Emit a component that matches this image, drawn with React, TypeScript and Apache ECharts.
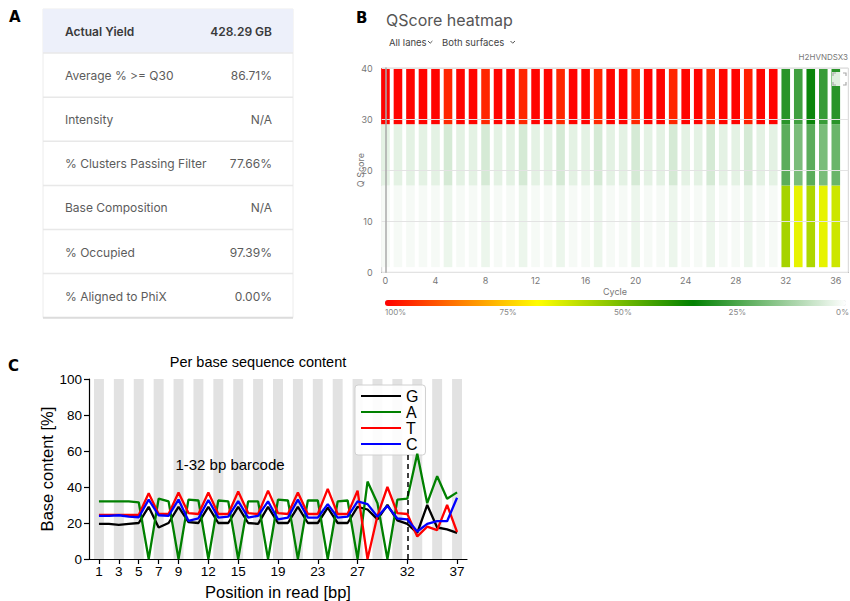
import React, { useEffect, useRef } from 'react';
import * as echarts from 'echarts';

// ---------- Panel A: run summary table ----------
const tableLabels = ['Actual Yield', 'Average % >= Q30', 'Intensity', '% Clusters Passing Filter', 'Base Composition', '% Occupied', '% Aligned to PhiX'];
const tableValues = ['428.29 GB', '86.71%', 'N/A', '77.66%', 'N/A', '97.39%', '0.00%'];

// ---------- Panel B: QScore heatmap ----------
const cycles = [0, 1, 2, 3, 4, 5, 6, 7, 8, 9, 10, 11, 12, 13, 14, 15, 16, 17, 18, 19, 20, 21, 22, 23, 24, 25, 26, 27, 28, 29, 30, 31, 32, 33, 34, 35, 36];
const qBinEdges = [1, 17, 29, 40];
const pctLow = [1.2, 1.2, 1.2, 1.2, 1.2, 2.5, 1.2, 1.2, 2.5, 1.2, 1.2, 2.5, 1.2, 1.2, 2.5, 1.2, 1.2, 2.5, 1.2, 1.2, 2.5, 1.2, 1.2, 2.5, 1.2, 1.2, 2.5, 1.2, 1.2, 2.5, 1.2, 1.2, 55, 63.5, 56, 63.5, 60];
const pctMid = [3.5, 3.5, 3.5, 3.5, 3.5, 5.5, 3.5, 3.5, 5.5, 3.5, 3.5, 5.5, 3.5, 3.5, 5.5, 3.5, 3.5, 5.5, 3.5, 3.5, 5.5, 3.5, 3.5, 5.5, 3.5, 3.5, 5.5, 3.5, 3.5, 5.5, 3.5, 3.5, 21.5, 17.5, 21.5, 17.5, 19.5];
const pctHigh = [99.5, 99.5, 99.5, 99.5, 99.5, 95, 99.5, 99.5, 95, 99.5, 99.5, 95, 99.5, 99.5, 95, 99.5, 99.5, 95, 99.5, 99.5, 95, 99.5, 99.5, 95, 99.5, 99.5, 95.5, 99.5, 99.5, 96, 99.5, 99.5, 28, 25, 32, 26, 28];
const cycleTicks = [0, 4, 8, 12, 16, 20, 24, 28, 32, 36];
const colorbarTicks = ['100%', '75%', '50%', '25%', '0%'];
const heatColors = ['#ffffff', '#80c080', '#008000', '#80c000', '#ffff00', '#ff8000', '#ff0000'];

// ---------- Panel C: per base sequence content ----------
const positions = [1, 2, 3, 4, 5, 6, 7, 8, 9, 10, 11, 12, 13, 14, 15, 16, 17, 18, 19, 20, 21, 22, 23, 24, 25, 26, 27, 28, 29, 30, 31, 32, 33, 34, 35, 36, 37];
const contentG = [19.5, 19.5, 19, 19.5, 20, 29, 17.5, 20, 29, 20.5, 20, 29, 20, 20, 29, 20, 19.5, 29, 20, 20, 29, 20, 20, 28.5, 20, 20, 29, 27.5, 22, 30, 21.5, 19.5, 14.5, 30, 17.5, 16.5, 14.5];
const contentA = [32, 32, 32, 32, 31.5, 0, 33.5, 32, 0, 33, 32.5, 0, 32.5, 32, 0, 32, 32, 0, 33, 32.5, 0, 32.5, 32.5, 0, 32, 32.5, 0, 43, 31, 0, 33, 33.5, 58.5, 31, 46, 33.5, 37];
const contentT = [24.5, 24.5, 24.5, 24.5, 24.5, 36.5, 25, 25, 37, 25.5, 25, 37, 25, 25, 37.5, 25.5, 25, 38, 25.5, 25, 37, 25, 25, 39, 25, 25, 38, 0, 24, 40, 25.5, 25, 12.5, 18, 16, 30, 15];
const contentC = [24, 24, 24.3, 23.5, 23.2, 33, 24.3, 24, 33, 21.2, 22.6, 32.8, 23, 23.5, 32.2, 23, 24, 32, 22, 23, 33, 23, 23, 30.5, 23, 23.5, 32, 30.5, 23.5, 29.5, 22.5, 22, 15.3, 19.5, 21, 21, 34];
const baseNames = ['G', 'A', 'T', 'C'];
const baseColors = ['#000000', '#008000', '#ff0000', '#0000ff'];
const posTicks = [1, 3, 5, 7, 9, 12, 15, 19, 23, 27, 32, 37];
const stripeCenters = [1, 3, 5, 7, 9, 11, 13, 15, 17, 19, 21, 23, 25, 27, 29, 31, 33, 35, 37];
const barcodeEnd = 32;
const barcodeLineTop = 60;

const UI = 'Inter, "Noto Sans", sans-serif';
const SANS = '"Liberation Sans", Arial, sans-serif';

export default function App() {
  const ref = useRef<HTMLDivElement>(null);

  useEffect(() => {
    if (!ref.current) return;
    const chart = echarts.init(ref.current, undefined, { renderer: 'svg' });

    // ----- graphic elements -----
    const g: any[] = [];
    // panel letters
    g.push({ type: 'text', x: 9, y: 17, style: { text: 'A', font: 'bold 15px "DejaVu Sans"', fill: '#000', align: 'left', verticalAlign: 'middle' } });
    g.push({ type: 'text', x: 356, y: 18, style: { text: 'B', font: 'bold 15px "DejaVu Sans"', fill: '#000', align: 'left', verticalAlign: 'middle' } });
    g.push({ type: 'text', x: 8, y: 366, style: { text: 'C', font: 'bold 15px "DejaVu Sans"', fill: '#000', align: 'left', verticalAlign: 'middle' } });

    // table A
    const tx0 = 43, tx1 = 293, ty0 = 9, rowH = 44.1;
    g.push({ type: 'rect', shape: { x: tx0, y: ty0, width: tx1 - tx0, height: rowH * 7 }, style: { fill: '#ffffff', stroke: '#ececec', lineWidth: 1 } });
    g.push({ type: 'rect', shape: { x: tx0, y: ty0, width: tx1 - tx0, height: rowH }, style: { fill: '#edf0fa' } });
    tableLabels.forEach((lab, i) => {
      const cy = ty0 + rowH * i + rowH / 2 + 0.5;
      const header = i === 0;
      g.push({ type: 'text', x: 65, y: cy, style: { text: lab, font: `${header ? 600 : 400} 12px ${UI}`, fill: header ? '#3a3a3a' : '#5c5c5c', align: 'left', verticalAlign: 'middle' } });
      g.push({ type: 'text', x: 272, y: cy, style: { text: tableValues[i], font: `${header ? 600 : 400} 12px ${UI}`, fill: header ? '#3a3a3a' : '#5c5c5c', align: 'right', verticalAlign: 'middle' } });
      const ly = ty0 + rowH * (i + 1);
      g.push({ type: 'line', shape: { x1: tx0, y1: ly, x2: tx1, y2: ly }, style: { stroke: i === 6 ? '#dcdcdc' : '#e8e8e8', lineWidth: i === 6 ? 2 : 1.5 } });
    });

    // panel B header
    g.push({ type: 'text', x: 386, y: 20, style: { text: 'QScore heatmap', font: `400 16px ${UI}`, fill: '#555', align: 'left', verticalAlign: 'middle' } });
    g.push({ type: 'text', x: 389, y: 42.5, style: { text: 'All lanes', font: `400 9.5px ${UI}`, fill: '#444', align: 'left', verticalAlign: 'middle' } });
    g.push({ type: 'polyline', shape: { points: [[428, 41], [430.2, 43.2], [432.4, 41]] }, style: { stroke: '#555', lineWidth: 1, fill: null } });
    g.push({ type: 'text', x: 442, y: 42.5, style: { text: 'Both surfaces', font: `400 9.5px ${UI}`, fill: '#444', align: 'left', verticalAlign: 'middle' } });
    g.push({ type: 'polyline', shape: { points: [[510.5, 41], [512.7, 43.2], [515, 41]] }, style: { stroke: '#555', lineWidth: 1, fill: null } });
    g.push({ type: 'text', x: 848, y: 57, style: { text: 'H2HVNDSX3', font: `400 8px ${UI}`, fill: '#777', align: 'right', verticalAlign: 'middle' } });
    // colorbar tick labels
    colorbarTicks.forEach((t, i) => {
      const last = i === colorbarTicks.length - 1;
      g.push({ type: 'text', x: last ? 849 : 385 + i * 114.5, y: 312, style: { text: t, font: `400 8px ${UI}`, fill: '#888', align: last ? 'right' : 'left', verticalAlign: 'middle' } });
    });
    // fullscreen icon
    g.push({ type: 'rect', z: 20, shape: { x: 832, y: 72, width: 15, height: 14 }, style: { fill: 'rgba(255,255,255,0.85)' } });
    const br = [
      [[833, 76], [833, 73], [836, 73]],
      [[843, 73], [846, 73], [846, 76]],
      [[833, 82], [833, 85], [836, 85]],
      [[843, 85], [846, 85], [846, 82]],
    ];
    br.forEach((pts) => g.push({ type: 'polyline', z: 21, shape: { points: pts }, style: { stroke: '#aaa', lineWidth: 1.2, fill: null } }));

    // panel C texts
    g.push({ type: 'text', x: 258, y: 362, style: { text: 'Per base sequence content', font: `400 14.5px ${SANS}`, fill: '#000', align: 'center', verticalAlign: 'middle' } });
    g.push({ type: 'text', x: 230, y: 464, z: 10, style: { text: '1-32 bp barcode', font: `400 15px ${SANS}`, fill: '#000', align: 'center', verticalAlign: 'middle' } });

    // ----- heatmap cells: [cycle, qLow, qHigh, pct] -----
    const binPcts = [pctLow, pctMid, pctHigh];
    const cells: number[][] = [];
    binPcts.forEach((pcts, k) => {
      cycles.forEach((c, i) => cells.push([c, qBinEdges[k], qBinEdges[k + 1], pcts[i]]));
    });

    const lineData = [contentG, contentA, contentT, contentC];

    const option: any = {
      animation: false,
      graphic: g,
      grid: [
        { left: 381.7, top: 68, width: 466.6, height: 204.3, show: true, borderColor: '#d4d4d4', borderWidth: 1, backgroundColor: 'transparent' },
        { left: 89, top: 379, width: 378, height: 181 },
      ],
      xAxis: [
        {
          gridIndex: 0, type: 'value', min: -0.3, max: 37,
          axisLine: { show: true, onZero: true, lineStyle: { color: '#999', width: 1.2 } },
          axisTick: { show: false },
          splitLine: { show: false },
          axisLabel: { customValues: cycleTicks, fontSize: 9, color: '#777', margin: 4, fontFamily: UI },
          name: 'Cycle', nameLocation: 'middle', nameGap: 15, nameMoveOverlap: false, nameTextStyle: { fontSize: 9, color: '#777', fontFamily: UI },
        },
        {
          gridIndex: 1, type: 'value', min: 0, max: 38,
          axisLine: { show: true, onZero: false, lineStyle: { color: '#000', width: 1.2 } },
          axisTick: { show: true, customValues: posTicks, length: 5, lineStyle: { color: '#000', width: 1.2 } },
          splitLine: { show: false },
          axisLabel: { customValues: posTicks, fontSize: 13.5, color: '#000', margin: 5, fontFamily: SANS },
          name: 'Position in read [bp]', nameLocation: 'middle', nameGap: 24, nameTextStyle: { fontSize: 16.5, color: '#000', fontFamily: SANS },
        },
      ],
      yAxis: [
        {
          gridIndex: 0, type: 'value', min: 0, max: 40, interval: 10, z: 5,
          axisLine: { show: true, onZero: true, lineStyle: { color: '#aaa', width: 1.5 } },
          axisTick: { show: false },
          splitLine: { show: true, lineStyle: { color: '#e3e3e3' } },
          axisLabel: { fontSize: 9, color: '#777', margin: 9, fontFamily: UI },
          name: 'Q Score', nameLocation: 'middle', nameGap: 17, nameMoveOverlap: false, nameTextStyle: { fontSize: 9, color: '#777', fontFamily: UI },
        },
        {
          gridIndex: 1, type: 'value', min: 0, max: 100, interval: 20,
          axisLine: { show: true, onZero: false, lineStyle: { color: '#000', width: 1.2 } },
          axisTick: { show: true, length: 5, lineStyle: { color: '#000', width: 1.2 } },
          splitLine: { show: false },
          axisLabel: { fontSize: 13.5, color: '#000', margin: 7, fontFamily: SANS },
          name: 'Base content [%]', nameLocation: 'middle', nameGap: 34, nameTextStyle: { fontSize: 16.5, color: '#000', fontFamily: SANS },
        },
      ],
      visualMap: {
        type: 'continuous', min: 0, max: 100, dimension: 3, seriesIndex: [0],
        orient: 'horizontal', inverse: true, left: 385, top: 300, itemWidth: 6, itemHeight: 461,
        calculable: false, hoverLink: false, padding: 0, text: null, showLabel: false,
        inRange: { color: heatColors },
      },
      legend: {
        data: baseNames, orient: 'vertical', left: 355, top: 385,
        icon: 'rect', itemWidth: 40, itemHeight: 2.2, itemGap: 0,
        padding: [3, 7, 3, 6],
        backgroundColor: 'rgba(255,255,255,0.88)', borderColor: '#d0d0d0', borderWidth: 1, borderRadius: 3,
        textStyle: { fontSize: 16, color: '#000', fontFamily: SANS, lineHeight: 15.3 },
        selectedMode: false,
      },
      series: [
        {
          type: 'custom', xAxisIndex: 0, yAxisIndex: 0, silent: true,
          encode: { x: 0, y: [1, 2] },
          data: cells,
          renderItem: (params: any, api: any) => {
            const x = api.value(0);
            const p0 = api.coord([x, api.value(1)]);
            const p1 = api.coord([x, api.value(2)]);
            const w = 8.6;
            return {
              type: 'rect',
              shape: { x: p0[0] - w / 2, y: p1[1], width: w, height: p0[1] - p1[1] },
              style: { fill: api.visual('color') },
            };
          },
        },
        {
          type: 'line', xAxisIndex: 1, yAxisIndex: 1, data: [], silent: true,
          markArea: {
            silent: true,
            itemStyle: { color: '#e2e2e2' },
            data: stripeCenters.map((c) => [{ xAxis: c - 0.5 }, { xAxis: c + 0.5 }]),
          },
        },
        ...baseNames.map((name, k) => ({
          name,
          type: 'line',
          xAxisIndex: 1,
          yAxisIndex: 1,
          symbol: 'none',
          silent: true,
          z: 3 + k,
          lineStyle: { color: baseColors[k], width: 2.3 },
          itemStyle: { color: baseColors[k] },
          data: positions.map((p, i) => [p, lineData[k][i]]),
          markLine: k === 0 ? {
            silent: true, symbol: 'none', label: { show: false },
            lineStyle: { color: '#000', type: [5, 4], width: 1.5 },
            data: [[{ coord: [barcodeEnd, 0] }, { coord: [barcodeEnd, barcodeLineTop] }]],
          } : undefined,
        })),
      ],
    };

    chart.setOption(option);
    return () => chart.dispose();
  }, []);

  return <div ref={ref} style={{ position: 'fixed', left: 0, top: 0, width: 850, height: 601, background: '#fff' }} />;
}
